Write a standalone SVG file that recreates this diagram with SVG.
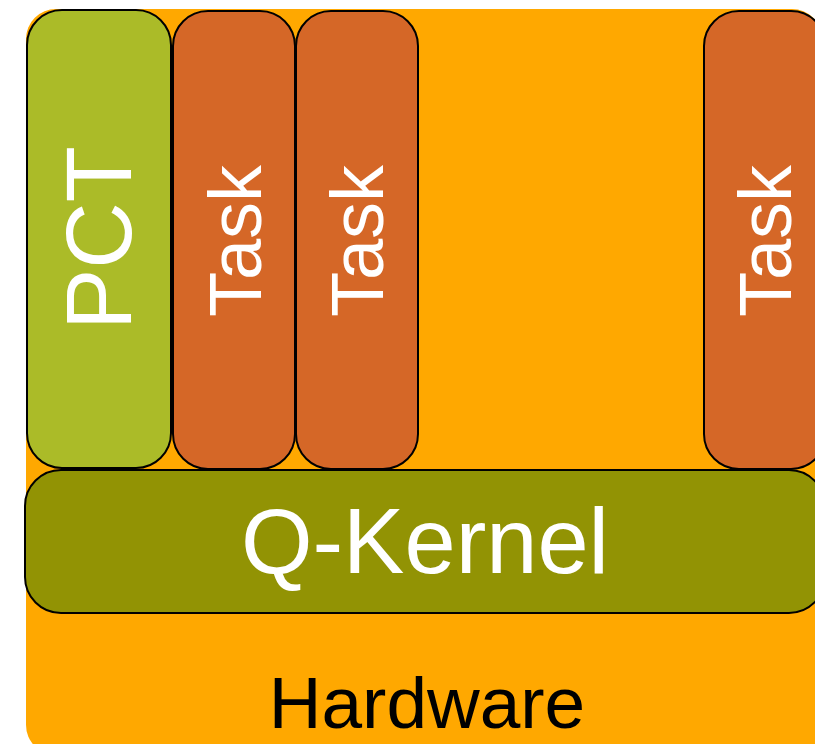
<svg xmlns="http://www.w3.org/2000/svg" width="815" height="744" viewBox="0 0 815 744">
  <style>
    .box { stroke: #000; stroke-width: 2; }
    .pct { fill: #ABBB28; }
    .task { fill: #D56727; }
    .kernel { fill: #929304; }
    .lbl { font-family: "Liberation Sans", Arial, Helvetica, sans-serif; fill: #fff; text-anchor: middle; }
    .hw { font-family: "Liberation Sans", Arial, Helvetica, sans-serif; fill: #000; text-anchor: middle; }
  </style>
  <rect width="815" height="744" fill="#fff"/>

  <!-- hardware layer -->
  <g id="hardware">
    <rect x="26" y="9" width="796" height="746" rx="30" ry="30" fill="#FFA800"/>
    <text class="hw" x="427" y="728" font-size="73">Hardware</text>
  </g>

  <!-- partition configuration task -->
  <g id="pct">
    <rect class="box pct" x="27" y="10" width="144" height="458" rx="35" ry="35"/>
    <text class="lbl" font-size="92" transform="translate(131 238) rotate(-90)" x="0" y="0">PCT</text>
  </g>

  <!-- tasks -->
  <g id="task1">
    <rect class="box task" x="173" y="11" width="122" height="458" rx="35" ry="35"/>
    <text class="lbl" font-size="74" transform="translate(261 241) rotate(-90)" x="0" y="0">Task</text>
  </g>
  <g id="task2">
    <rect class="box task" x="296" y="11" width="122" height="458" rx="35" ry="35"/>
    <text class="lbl" font-size="74" transform="translate(383 241) rotate(-90)" x="0" y="0">Task</text>
  </g>
  <g id="task3">
    <rect class="box task" x="704" y="11" width="122" height="458" rx="35" ry="35"/>
    <text class="lbl" font-size="74" transform="translate(791 241) rotate(-90)" x="0" y="0">Task</text>
  </g>

  <!-- kernel layer -->
  <g id="qkernel">
    <rect class="box kernel" x="25" y="470" width="800" height="143" rx="36" ry="36"/>
    <text class="lbl" x="425" y="573" font-size="92">Q-Kernel</text>
  </g>

  <g id="connectors"/>
</svg>
